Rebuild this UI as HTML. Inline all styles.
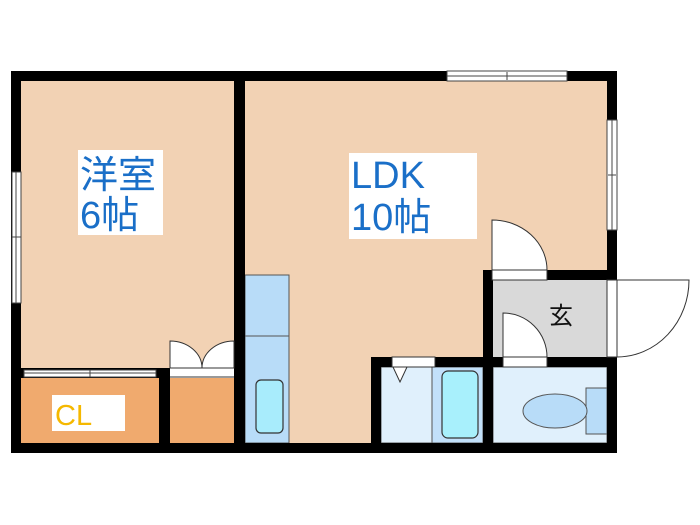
<!DOCTYPE html>
<html><head><meta charset="utf-8"><style>
html,body{margin:0;padding:0;background:#fff;width:700px;height:525px;overflow:hidden}
svg{display:block}
.t{font-family:"Liberation Sans","Noto Sans CJK JP",sans-serif;fill:#1a6fc8;font-size:38px}
</style></head><body>
<svg width="700" height="525" viewBox="0 0 700 525">
<rect x="21" y="81" width="213" height="287" fill="#f2d2b4"/>
<rect x="245" y="81" width="362" height="362" fill="#f2d2b4"/>
<rect x="21" y="378" width="138" height="65" fill="#f0aa6e"/>
<rect x="170" y="378" width="64" height="65" fill="#f0aa6e"/>
<rect x="493" y="280" width="114" height="77" fill="#d9d9d9"/>
<rect x="381" y="367" width="51" height="76" fill="#e0f0fc" stroke="#555" stroke-width="1"/>
<rect x="432" y="367" width="51" height="76" fill="#c2e0fa" stroke="#555" stroke-width="1"/>
<rect x="493" y="367" width="114" height="76" fill="#e0f0fc" stroke="#555" stroke-width="1"/>
<rect x="245" y="275" width="44" height="61" fill="#b8dcf8" stroke="#555" stroke-width="1"/>
<rect x="245" y="336" width="44" height="107" fill="#b8dcf8" stroke="#555" stroke-width="1"/>
<rect x="256" y="380" width="27" height="53" rx="5" fill="#a8ecfc" stroke="#333" stroke-width="1.2"/>
<rect x="442" y="371" width="36" height="67" rx="6" fill="#a8f0fc" stroke="#333" stroke-width="1.2"/>
<path d="M393 367 L400 382 L407 367" fill="#fff" stroke="#333" stroke-width="1"/>
<rect x="586" y="388" width="21" height="46" fill="#b8dcf8" stroke="#555" stroke-width="1"/>
<ellipse cx="555" cy="411" rx="32" ry="17" fill="#b8dcf8" stroke="#555" stroke-width="1"/>
<g fill="#000">
<rect x="11" y="71" width="606" height="10"/>
<rect x="11" y="71" width="10" height="382"/>
<rect x="11" y="443" width="606" height="10"/>
<rect x="607" y="71" width="10" height="382"/>
<rect x="234" y="71" width="11" height="382"/>
<rect x="21" y="368" width="213" height="10"/>
<rect x="159" y="368" width="11" height="80"/>
<rect x="483" y="270" width="134" height="10"/>
<rect x="483" y="270" width="10" height="180"/>
<rect x="371" y="357" width="246" height="10"/>
<rect x="371" y="357" width="10" height="90"/>
</g>
<g fill="#fff" stroke="#444" stroke-width="1">
<rect x="447" y="71" width="120" height="10"/>
<line x1="447" y1="76" x2="567" y2="76"/><line x1="507" y1="72" x2="507" y2="80"/>
<rect x="607" y="120" width="10" height="110"/>
<line x1="612" y1="120" x2="612" y2="230"/><line x1="608" y1="175" x2="616" y2="175"/>
<rect x="12" y="172" width="9" height="131"/>
<line x1="16" y1="172" x2="16" y2="303"/><line x1="12" y1="237" x2="21" y2="237"/>
<rect x="24" y="370" width="132" height="7"/>
<line x1="24" y1="373" x2="156" y2="373"/><line x1="90" y1="370" x2="90" y2="377"/>
</g>
<g fill="#fff" stroke="#333" stroke-width="1">
<rect x="170" y="368" width="64" height="10" stroke="none"/>
<line x1="170" y1="377" x2="234" y2="377"/>
<path d="M170 368 V341 A32 27 0 0 1 202 368 Z"/>
<path d="M234 368 V341 A32 27 0 0 0 202 368 Z"/>
<rect x="492" y="270" width="55" height="10"/>
<path d="M492 270 V220 A55 50 0 0 1 547 270 Z"/>
<rect x="503" y="357" width="44" height="10"/>
<path d="M503 357 V313 A44 44 0 0 1 547 357 Z"/>
<rect x="392" y="357" width="43" height="10"/>
<rect x="607" y="280" width="10" height="77"/>
<path d="M617 280 H689 A72 77 0 0 1 617 357 Z"/>
</g>
<rect x="78" y="150" width="85" height="85" fill="#fff"/>
<text class="t" x="80" y="188">洋室</text>
<text class="t" x="80" y="228">6帖</text>
<rect x="349" y="153" width="128" height="86" fill="#fff"/>
<text class="t" x="351" y="188">LDK</text>
<text class="t" x="351" y="230">10帖</text>
<rect x="52" y="395" width="73" height="36" fill="#fff"/>
<text x="55" y="425" font-family="Liberation Sans, sans-serif" font-size="29" fill="#f5b800">CL</text>
<text x="549" y="324" font-family="Liberation Sans, Noto Sans CJK JP, sans-serif" font-size="24" fill="#111">玄</text>
</svg>
</body></html>
